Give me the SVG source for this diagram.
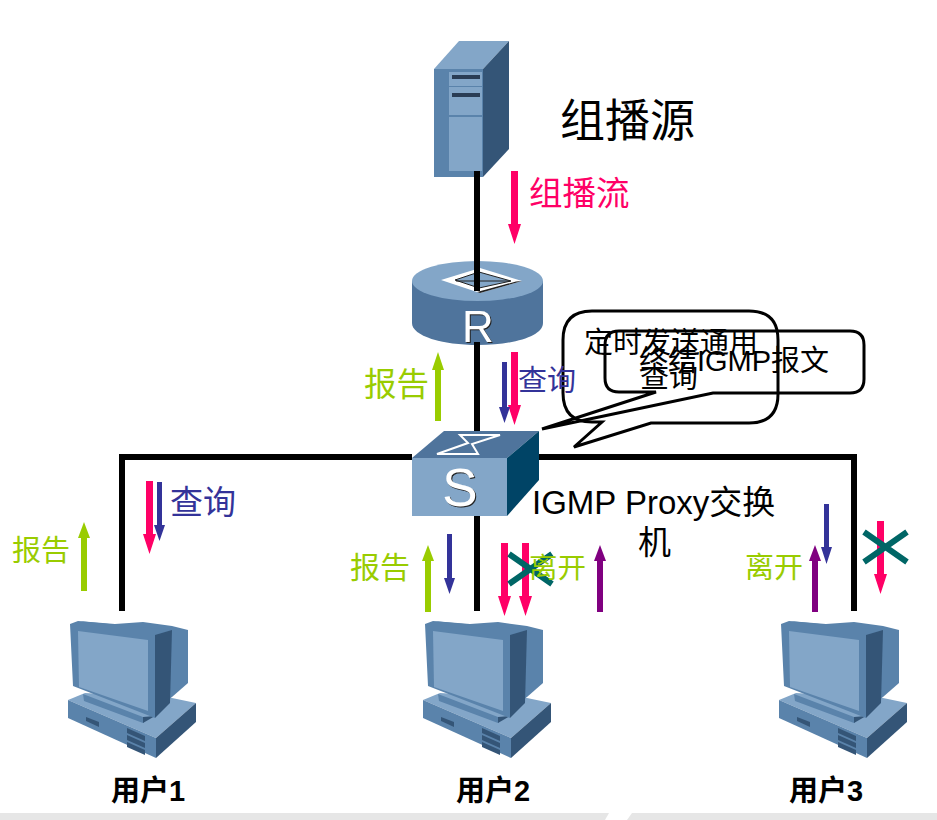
<svg xmlns="http://www.w3.org/2000/svg" width="937" height="820" viewBox="0 0 937 820">
<style>
text{font-family:"Liberation Sans","Noto Sans CJK SC",sans-serif;fill:#000}
.g{fill:#99cc00}.n{fill:#333399}.p{fill:#ff0066}
.wire{fill:none;stroke:#000;stroke-width:6}
.callout{fill:none;stroke:#000;stroke-width:3;stroke-linejoin:miter}
.x{stroke:#006666;stroke-width:6;fill:none}
.mid{fill:#5a83ab}.lt{fill:#83a6c8}.dk{fill:#345577}
.user{font-size:29px;font-weight:bold}
.ic{fill:#fff;filter:drop-shadow(1px 1px 0.5px #222)}
</style>
<defs>
<g id="pc">
<path class="lt" d="M68 700L85 693L172 698L196 703L156 738Z"/>
<path class="mid" d="M68 700L156 738V758L68 718Z"/>
<path class="dk" d="M156 738L196 703V722L156 758Z"/>
<path class="dk" d="M86 717L99 722V727L86 721Z"/>
<path class="dk" d="M127 728L145 736V741L127 733ZM127 735L145 743V748L127 740ZM127 742L145 750V755L127 747Z"/>
<path class="mid" d="M172 626L188 630V683L172 697L165 702V630Z"/>
<path class="mid" d="M78 621L115 624L143 622L172 626V632L155 636Z"/>
<path class="mid" d="M83 694L143 717L148 718L143 723L84 701Z"/>
<path class="dk" d="M143 717L155 716L143 723Z"/>
<path class="mid" d="M70 624L78 621L172 630L155 635V718L73 686Z"/>
<path class="dk" d="M155 635L172 630L170 703L155 718Z"/>
<path class="lt" d="M78 631L148 640V711L79 687Z"/>
</g>
</defs>
<path d="M0 813H609L605 820H0Z" fill="#e6e6e6"/>
<path d="M632 813H937V820H627Z" fill="#e6e6e6"/>
<g id="server">
<path class="lt" d="M434 69L459 41H509L483 69Z"/>
<path class="dk" d="M483 69L509 41V149L483 177Z"/>
<rect class="mid" x="434" y="69" width="49" height="108"/>
<rect class="lt" x="449" y="72" width="33" height="14"/>
<rect class="lt" x="449" y="87" width="33" height="28"/>
<rect class="lt" x="449" y="117" width="33" height="54"/>
<rect x="452" y="75" width="28" height="4" fill="#2a3d55"/>
<rect x="452" y="93" width="28" height="4" fill="#2a3d55"/>
</g>
<g id="router">
<path d="M412 281V323C412 336 442 345 478 345S543 336 543 323V281Z" fill="#4f749c"/>
<ellipse class="lt" cx="477.500" cy="281" rx="65.500" ry="20"/>
<path d="M441 280L480 268L522 281L480 293Z" fill="#fff"/>
<path d="M522 281L480 293L477 292L516 281.500Z" fill="#222"/>
<path d="M455 280L479 272L511 281L479 288Z" class="lt" stroke="#222" stroke-width="1"/>
<path d="M456 281H510" stroke="#222" stroke-width="1"/>
<text class="ic" x="478" y="342" text-anchor="middle" style="font-size:44px">R</text>
</g>
<g id="switch">
<path d="M412 458L444 431H539L507 458Z" fill="#4f749c"/>
<path d="M507 458L539 431V480L507 516Z" fill="#004466"/>
<rect class="lt" x="412" y="458" width="95" height="58"/>
<path d="M437 454L468 443L460 435H500L472 444L478 454Z" fill="none" stroke="#fff" stroke-width="2"/>
<text class="ic" x="460" y="506" text-anchor="middle" style="font-size:53px">S</text>
</g>
<use id="user1" href="#pc"/>
<use id="user2" href="#pc" x="355"/>
<use id="user3" href="#pc" x="711"/>
<g id="connectors">
<path class="wire" d="M477 171V291M477 342V431M122 611V457H412M539 457H854V611M477 516V611"/>
<g class="p">
<path d="M511 171H518V224H521L514.500 244L508 224H511Z"/>
<path d="M511 352H518V405H521L514.500 425L508 405H511Z"/>
<path d="M501 543H508V596H511L504.500 616L498 596H501Z"/>
<path d="M522 543H529V596H532L525.500 616L519 596H522Z"/>
<path d="M877 521H884V574H887L880.500 594L874 574H877Z"/>
<path d="M146 481H153V534H156L149.500 554L143 534H146Z"/>
</g>
<g class="n">
<path d="M502 362H507V407H510L504.500 423L499 407H502Z"/>
<path d="M447 534H452V578H455L449.500 594L444 578H447Z"/>
<path d="M824 504H829V547H832L826.500 564L821 547H824Z"/>
<path d="M157 482H162V525H165L159.500 541L154 525H157Z"/>
</g>
<g class="g">
<path d="M435 421H441V370H444L438 352L432 370H435Z"/>
<path d="M425 612H431V561H434L428 545L422 561H425Z"/>
<path d="M81 591H87V538H90L84 522L78 538H81Z"/>
</g>
<g fill="#800080">
<path d="M597 612H603V561H606L600 545L594 561H597Z"/>
<path d="M812 612H818V561H821L815 545L809 561H812Z"/>
</g>
<path class="x" d="M509 554L552 584M552 554L509 584"/>
<path class="x" d="M864 532L907 562M907 532L864 562"/>
</g>
<g id="callouts">
<path class="callout" d="M592 311H749Q778 311 778 340V394Q778 423 749 423H651L574 447L602 422H592Q563 422 563 393V340Q563 311 592 311Z"/>
<path class="callout" d="M619 331H850Q864 331 864 345V379Q864 393 850 393H713L542 429L656 392H619Q605 392 605 378V345Q605 331 619 331Z"/>
</g>
<g id="labels">
<text x="560" y="137" style="font-size:45px">组播源</text>
<text class="p" x="529" y="205" style="font-size:33.500px">组播流</text>
<text class="g" x="364" y="396" style="font-size:32.500px">报告</text>
<text class="n" x="518" y="391" style="font-size:29px">查询</text>
<text class="n" x="170" y="514" style="font-size:33px">查询</text>
<text class="g" x="12" y="561" style="font-size:29px">报告</text>
<text class="g" x="350" y="578" style="font-size:30px">报告</text>
<text class="g" x="529" y="578" style="font-size:28.500px">离开</text>
<text class="g" x="745" y="578" style="font-size:29px">离开</text>
<text x="532" y="514" style="font-size:33px">IGMP Proxy交换</text>
<text x="638" y="554" style="font-size:33px">机</text>
<text x="584" y="353" style="font-size:29px">定时发送通用</text>
<text x="639" y="371" style="font-size:29px">终结IGMP报文</text>
<text x="640" y="388" style="font-size:29px">查询</text>
<text class="user" x="111" y="801">用户1</text>
<text class="user" x="456" y="801">用户2</text>
<text class="user" x="789" y="801">用户3</text>
</g>
</svg>
